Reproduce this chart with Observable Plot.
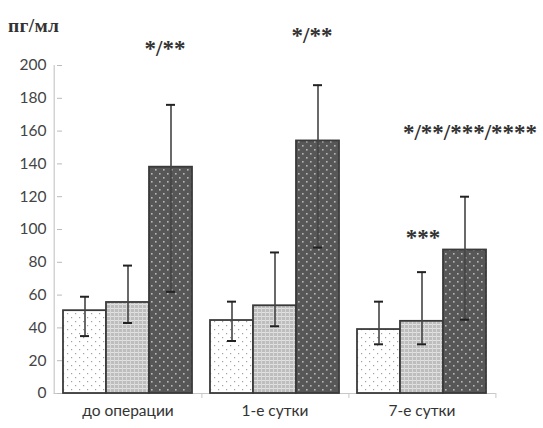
<!DOCTYPE html>
<html>
<head>
<meta charset="utf-8">
<script src="https://cdn.jsdelivr.net/npm/d3@7"></script>
<script src="https://cdn.jsdelivr.net/npm/@observablehq/plot@0.6"></script>
<style>
  html, body { margin: 0; padding: 0; background: #fff; }
  #wrap { position: relative; width: 543px; height: 428px; }
  #unit { position: absolute; left: 8px; top: 15px; font-family: "Liberation Serif", "DejaVu Serif", serif; font-weight: bold; font-size: 19.5px; color: #333; letter-spacing: 0.3px; }
</style>
</head>
<body>
<svg width="0" height="0" style="position:absolute">
  <defs>
    <pattern id="pDots" width="8" height="8" patternUnits="userSpaceOnUse">
      <rect width="8" height="8" fill="#ffffff"/>
      <rect x="1" y="1" width="1.2" height="1.2" fill="#a0a0a0"/>
      <rect x="5" y="5" width="1.2" height="1.2" fill="#a0a0a0"/>
    </pattern>
    <pattern id="pGrid" width="4" height="4" patternUnits="userSpaceOnUse">
      <rect width="4" height="4" fill="#bdbdbd"/>
      <rect x="0" y="0" width="4" height="1" fill="#e2e2e2"/>
      <rect x="0" y="0" width="1" height="4" fill="#d8d8d8"/>
    </pattern>
    <pattern id="pDark" width="8" height="8" patternUnits="userSpaceOnUse">
      <rect width="8" height="8" fill="#575757"/>
      <rect x="1" y="1" width="1.6" height="1.6" fill="#b8b8b8"/>
      <rect x="5" y="5" width="1.6" height="1.6" fill="#b8b8b8"/>
    </pattern>
  </defs>
</svg>
<div id="wrap"><div id="unit">пг/мл</div></div>
<script>
const groups = ["до операции", "1-е сутки", "7-е сутки"];
const series = ["s1", "s2", "s3"];
const seriesFills = ["url(#pDots)", "url(#pGrid)", "url(#pDark)"];
const values = [
  [50.5, 55.5, 138],
  [44.5, 53.5, 154],
  [39, 44, 87.5]
];
const errLow = [
  [35, 43, 62],
  [32, 41, 89],
  [30, 30, 45]
];
const errHigh = [
  [59, 78, 176],
  [56, 86, 188],
  [56, 74, 120]
];
const yTicks = [0, 20, 40, 60, 80, 100, 120, 140, 160, 180, 200];
const annotationsTop = [
  {group: "до операции", series: "s3", y: 210, text: "*/**"},
  {group: "1-е сутки", series: "s3", y: 218, text: "*/**"}
];
const annotationsMid = [
  {group: "7-е сутки", series: "s2", y: 95, text: "***"}
];
const annotationsWide = [
  {group: "7-е сутки", series: "s3", y: 159, text: "*/**/***/****"}
];

const data = [];
groups.forEach((g, gi) => series.forEach((s, si) => data.push({
  group: g, series: s, value: values[gi][si], lo: errLow[gi][si], hi: errHigh[gi][si]
})));

const font = "Lato, 'Open Sans', sans-serif";
const annFont = "'Liberation Serif', serif";
const annStyle = {fill: "#333", fontSize: 23, fontFamily: annFont, fontWeight: "bold"};

const plot = Plot.plot({
  width: 543,
  height: 428,
  marginLeft: 52,
  marginRight: 46,
  marginTop: 65,
  marginBottom: 35,
  style: {fontFamily: font, background: "#fff", overflow: "visible"},
  fx: {domain: groups, paddingInner: 0.11, paddingOuter: 0.06, label: null, axis: null},
  x: {domain: series, padding: 0, axis: null},
  y: {domain: [0, 200], ticks: yTicks, label: null},
  color: {domain: series, range: seriesFills},
  marks: [
    Plot.ruleY([0], {stroke: "#c8c8c8", strokeWidth: 1.2, insetLeft: -8.6, insetRight: -8.6}),
    Plot.ruleX([{group: groups[0], series: series[0]}], {fx: "group", x: "series", y1: 0, y2: 200, dx: -30.8, stroke: "#c8c8c8", strokeWidth: 1.2}),
    Plot.axisY({ticks: yTicks, tickSize: 5, tickPadding: 11, stroke: "#bbb", fill: "#444", fontSize: 15.5}),
    Plot.axisFx({anchor: "bottom", tickSize: 0, tickPadding: 11, fill: "#333", fontSize: 15.5, label: null}),
    Plot.axisFx({anchor: "bottom", tickSize: 5, text: null, dx: 73.9, stroke: "#c8c8c8", label: null}),
    Plot.barY(data, {fx: "group", x: "series", y: "value", fill: "series", stroke: "#3a3a3a", strokeWidth: 1.8}),
    Plot.ruleX(data, {fx: "group", x: "series", y1: "lo", y2: "hi", stroke: "#444", strokeWidth: 1.6}),
    Plot.tickY(data, {fx: "group", x: "series", y: "lo", stroke: "#222", strokeWidth: 2, insetLeft: 17, insetRight: 17}),
    Plot.tickY(data, {fx: "group", x: "series", y: "hi", stroke: "#222", strokeWidth: 2, insetLeft: 17, insetRight: 17}),
    Plot.text(annotationsTop, {fx: "group", x: "series", y: "y", text: "text", dx: -6, ...annStyle}),
    Plot.text(annotationsMid, {fx: "group", x: "series", y: "y", text: "text", dx: 1, ...annStyle}),
    Plot.text(annotationsWide, {fx: "group", x: "series", y: "y", text: "text", dx: 5, ...annStyle})
  ]
});
document.getElementById("wrap").appendChild(plot);
</script>
</body>
</html>
